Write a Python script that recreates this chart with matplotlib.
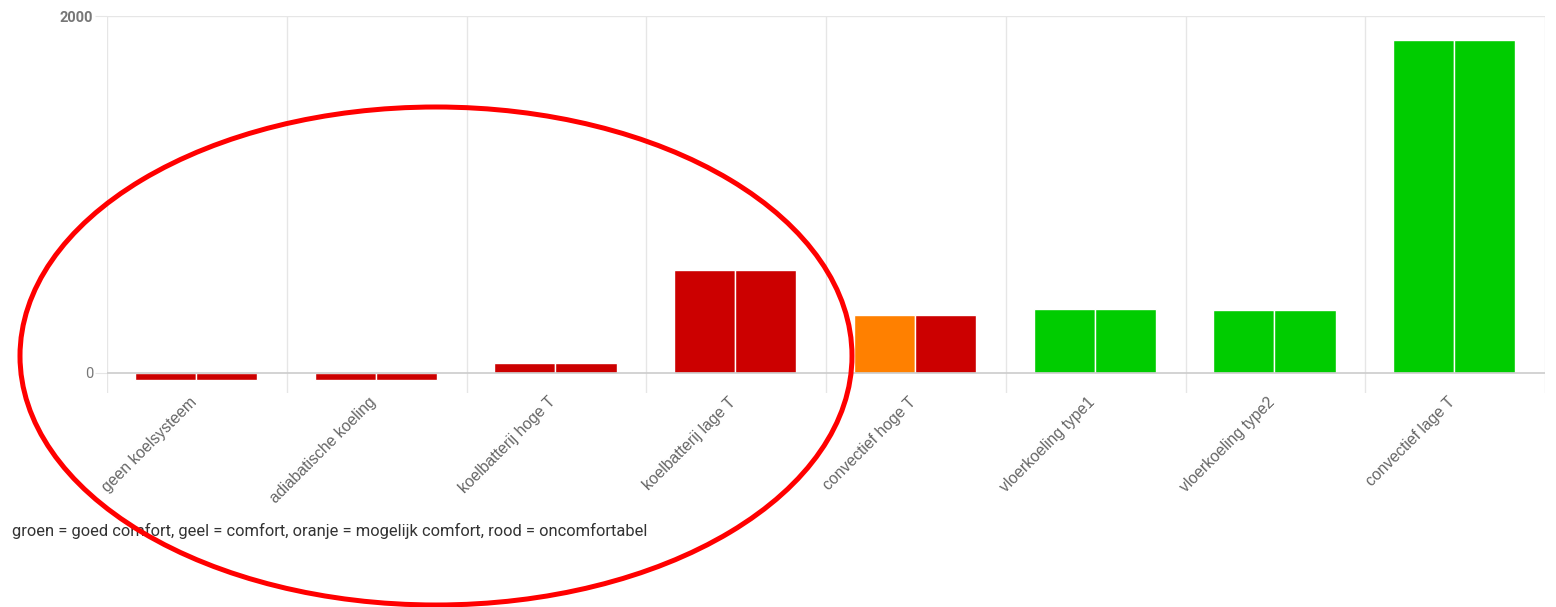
import numpy as np
import matplotlib
matplotlib.use('Agg')
import matplotlib.pyplot as plt
from matplotlib.patches import Ellipse

categories = ['geen koelsysteem', 'adiabatische koeling', 'koelbatterij hoge T',
              'koelbatterij lage T', 'convectief hoge T', 'vloerkoeling type1',
              'vloerkoeling type2', 'convectief lage T']
series_a = [-40, -40, 55, 578, 325, 358, 353, 1866]
series_b = [-40, -40, 55, 578, 325, 358, 353, 1866]
colors_a = ['#cc0000', '#cc0000', '#cc0000', '#cc0000', '#ff8000', '#00cc00', '#00cc00', '#00cc00']
colors_b = ['#cc0000', '#cc0000', '#cc0000', '#cc0000', '#cc0000', '#00cc00', '#00cc00', '#00cc00']
note = 'groen = goed comfort, geel = comfort, oranje = mogelijk comfort, rood = oncomfortabel'

W, H = 1556, 607
fig = plt.figure(figsize=(W / 100, H / 100), dpi=100)
ax = fig.add_axes([107 / W, 1 - 393 / H, (1545 - 107) / W, (393 - 16) / H])

px_per_unit = (373 - 16) / 2000
ymin = -(393 - 373) / px_per_unit
ax.set_ylim(ymin, 2000)
ax.set_xlim(0, len(categories))

x = np.arange(len(categories))
bw = 0.34
ax.bar(x + 0.495 - bw / 2, series_a, width=bw, color=colors_a, edgecolor='white', linewidth=1, zorder=3)
ax.bar(x + 0.495 + bw / 2, series_b, width=bw, color=colors_b, edgecolor='white', linewidth=1, zorder=3)

# vertical gridlines at category borders
for b in range(len(categories) + 1):
    ax.axvline(b, color='#e6e6e6', linewidth=1, zorder=1)
ax.axhline(2000, color='#e6e6e6', linewidth=1, zorder=1)
ax.axhline(0, color='#cccccc', linewidth=1.2, zorder=4)

for s in ax.spines.values():
    s.set_visible(False)

ax.set_yticks([0, 2000])
ax.set_yticklabels(['0', '2000'])
ax.tick_params(axis='y', length=9, color='#e6e6e6', labelcolor='#777777', labelsize=10.5, pad=1)
for lbl in ax.get_yticklabels():
    lbl.set_family('Roboto')
    if lbl.get_text() == '2000':
        lbl.set_fontweight('bold')

# labels end slightly left of the category centre
ax.set_xticks(x + 0.455)
ax.set_xticklabels(categories, rotation=45, ha='right', va='top', rotation_mode='anchor',
                   color='#666666', fontsize=11.3, family='Liberation Sans')
ax.tick_params(axis='x', length=0, pad=1)

fig.text(12 / W, 1 - 531 / H, note, fontsize=11.9, color='#333333', family='Roboto',
         ha='left', va='center')

ell = Ellipse((436 / W, 1 - 356 / H), 832 / W, 498 / H, transform=fig.transFigure,
              fill=False, edgecolor='#ff0000', linewidth=3.6, clip_on=False, zorder=10)
fig.patches.append(ell)

fig.savefig('out.png', dpi=100)
